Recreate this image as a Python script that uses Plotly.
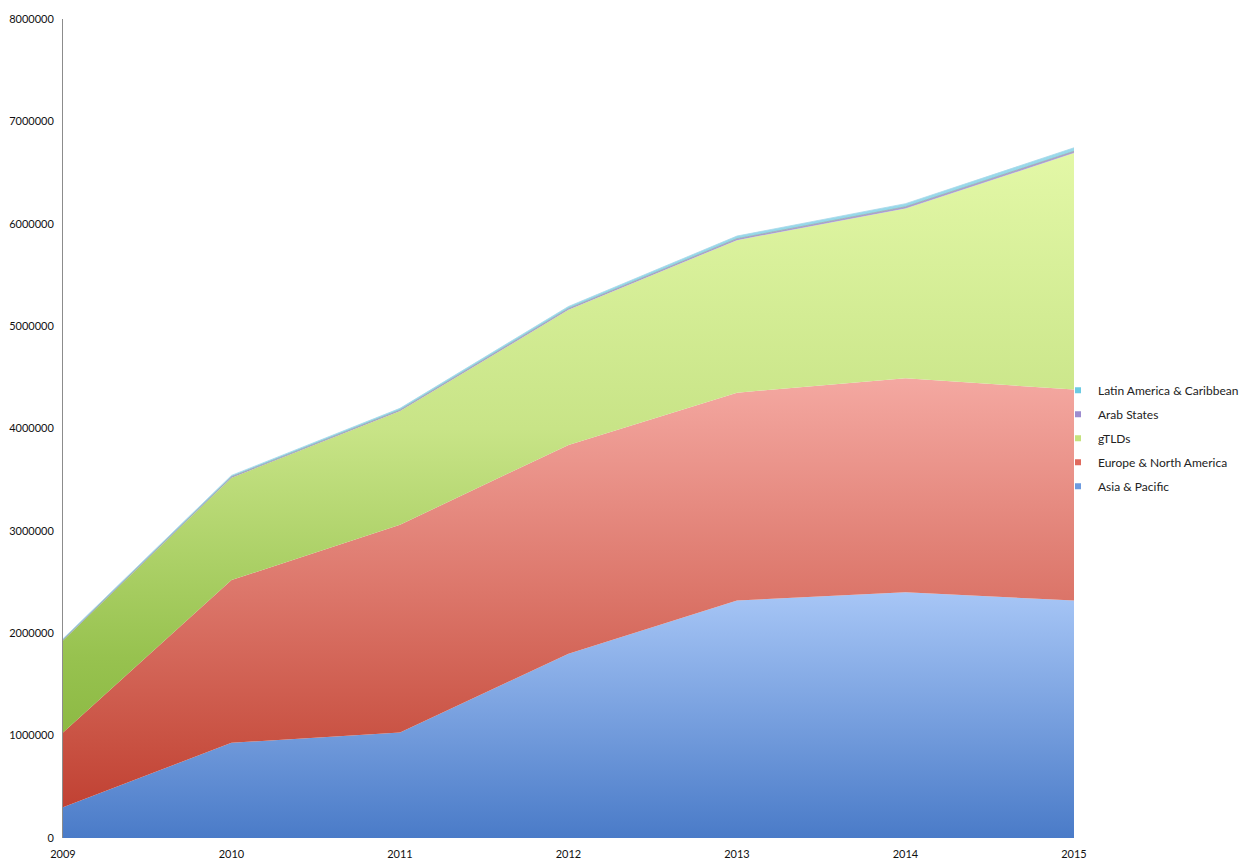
import plotly.graph_objects as go

years = [2009, 2010, 2011, 2012, 2013, 2014, 2015]

asia_pacific = [300000, 930000, 1030000, 1800000, 2320000, 2400000, 2320000]
europe_north_america = [730000, 1590000, 2030000, 2040000, 2030000, 2090000, 2060000]
gtlds = [900000, 1000000, 1110000, 1320000, 1490000, 1660000, 2310000]
arab_states = [6000, 8000, 10000, 12000, 14000, 16000, 18000]
latin_america = [10000, 14000, 17000, 20000, 26000, 30000, 34000]

y_max = 8000000

# name, values, vertical gradient (absolute on the y axis), edge colour, edge width, key colour
series = [
    ("Asia & Pacific", asia_pacific,
     [[0.0, "#4a7bc8"], [0.30, "#a7c6f6"], [1.0, "#b0ccf8"]], "#5b8bd6", 0, "#6d9be0"),
    ("Europe & North America", europe_north_america,
     [[0.0, "#bd3a2c"], [0.12, "#c95243"], [0.30, "#dc766a"], [0.56, "#f4a8a1"], [1.0, "#f6b0aa"]],
     "#d9665a", 0, "#e06a5e"),
    ("gTLDs", gtlds,
     [[0.0, "#7fae35"], [0.22, "#97c24f"], [0.50, "#c8e487"], [0.84, "#e3f8a7"], [1.0, "#e6f9ad"]],
     "#b5d56a", 0, "#c5e27e"),
    ("Arab States", arab_states,
     [[0.0, "#9a8cc8"], [1.0, "#b3a7d9"]], "#9a9a9a", 0.6, "#9d8ccf"),
    ("Latin America & Caribbean", latin_america,
     [[0.0, "#7fcfe3"], [1.0, "#9ddcec"]], "#a8d8ea", 0.8, "#6ccbe3"),
]

fig = go.Figure()

# Stacked areas
for name, values, scale, edge, width, _ in series:
    fig.add_trace(go.Scatter(
        x=years,
        y=values,
        name=name,
        mode="lines",
        stackgroup="one",
        line=dict(width=width, color=edge),
        fillgradient=dict(type="vertical", colorscale=scale, start=0, stop=y_max),
        showlegend=False,
        hoverinfo="x+y+name",
    ))

# Legend keys: small squares, top of the stack listed first
for name, _, _, _, _, key in reversed(series):
    fig.add_trace(go.Scatter(
        x=[None],
        y=[None],
        name=name,
        legendgroup=name,
        mode="markers",
        marker=dict(symbol="square", size=6, color=key),
        showlegend=True,
    ))

# Plot area spans x 63..1074 px; the legend sits in the remaining paper space
paper_w = 1246 - 63
plot_right = (1074 - 63) / paper_w

fig.update_layout(
    width=1246,
    height=861,
    margin=dict(l=63, r=0, t=19, b=23, autoexpand=False),
    paper_bgcolor="white",
    plot_bgcolor="white",
    font=dict(family="Lato, 'Open Sans', sans-serif", size=11, color="#222222"),
    showlegend=True,
    legend=dict(
        x=(1058 - 63) / paper_w, y=0.488, xanchor="left", yanchor="middle",
        traceorder="grouped",
        font=dict(size=12, color="#222222"),
        itemwidth=30,
        tracegroupgap=5,
        bgcolor="rgba(0,0,0,0)",
    ),
    xaxis=dict(
        domain=[0, plot_right],
        range=[2009, 2015],
        tickmode="array",
        tickvals=years,
        ticktext=[str(y) for y in years],
        showgrid=False,
        zeroline=False,
        showline=False,
        ticks="",
        ticklabelstandoff=8,
        tickfont=dict(size=11, color="#111111"),
    ),
    yaxis=dict(
        range=[0, y_max],
        dtick=1000000,
        tickformat="d",
        showgrid=False,
        zeroline=False,
        showline=True,
        linecolor="#8c8c8c",
        linewidth=1,
        ticks="",
        ticklabelstandoff=6,
        tickfont=dict(size=11, color="#111111"),
    ),
)

fig.write_html("out.html")
